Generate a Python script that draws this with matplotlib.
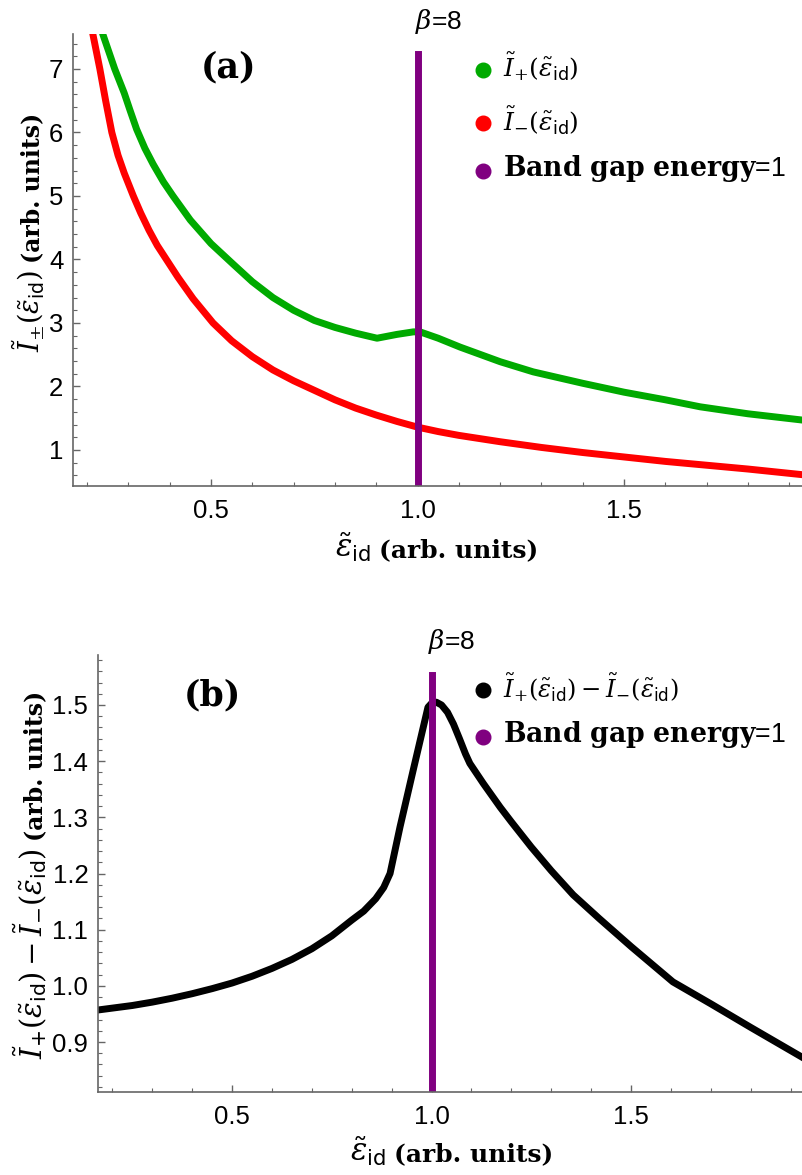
import numpy as np
import matplotlib
matplotlib.use("Agg")
import matplotlib.pyplot as plt
from matplotlib.lines import Line2D

plt.rcParams['font.family'] = ['Liberation Sans', 'DejaVu Sans']
plt.rcParams['mathtext.fontset'] = 'dejavuserif'

# panel (a): I+ (green) and I- (red) vs eps_id
x_plus = [0.225, 0.238, 0.267, 0.29, 0.304, 0.32, 0.34, 0.36, 0.385, 0.408, 0.45,
          0.5, 0.553, 0.6, 0.65, 0.7, 0.75, 0.8, 0.85, 0.902, 0.95, 0.99, 1.006,
          1.05, 1.103, 1.2, 1.28, 1.4, 1.5, 1.6, 1.684, 1.8, 1.933]
y_plus = [7.95, 7.55, 7.0, 6.62, 6.35, 6.05, 5.75, 5.5, 5.22, 5.0, 4.62,
          4.25, 3.93, 3.65, 3.40, 3.2, 3.04, 2.93, 2.84, 2.76, 2.82, 2.86, 2.86,
          2.76, 2.62, 2.39, 2.23, 2.05, 1.91, 1.79, 1.68, 1.57, 1.47]

x_minus = [0.205, 0.214, 0.231, 0.245, 0.26, 0.275, 0.29, 0.312, 0.33, 0.35, 0.37,
           0.393, 0.42, 0.457, 0.505, 0.55, 0.6, 0.65, 0.7, 0.75, 0.8, 0.85, 0.9,
           0.95, 1.0, 1.05, 1.1, 1.2, 1.3, 1.4, 1.5, 1.6, 1.7, 1.8, 1.933]
y_minus = [7.95, 7.55, 7.0, 6.5, 6.0, 5.64, 5.36, 5.0, 4.73, 4.46, 4.22,
           3.99, 3.72, 3.38, 3.0, 2.72, 2.47, 2.26, 2.09, 1.94, 1.79, 1.66, 1.55,
           1.45, 1.36, 1.29, 1.23, 1.13, 1.04, 0.96, 0.89, 0.82, 0.76, 0.70, 0.61]

# panel (b): I+ - I-
x_diff = [0.164, 0.25, 0.3, 0.35, 0.4, 0.45, 0.5, 0.55, 0.6, 0.65, 0.7, 0.75,
          0.8, 0.83, 0.86, 0.88, 0.896, 0.921, 0.954, 0.991, 1.0, 1.012, 1.025,
          1.04, 1.055, 1.07, 1.085, 1.096, 1.13, 1.172, 1.2, 1.25, 1.3, 1.355,
          1.42, 1.5, 1.605, 1.7, 1.8, 1.931]
y_diff = [0.957, 0.965, 0.971, 0.978, 0.986, 0.995, 1.005, 1.017, 1.031, 1.047,
          1.066, 1.089, 1.117, 1.133, 1.155, 1.175, 1.2, 1.283, 1.384, 1.496,
          1.503, 1.505, 1.5, 1.487, 1.466, 1.44, 1.413, 1.396, 1.36, 1.318, 1.292,
          1.247, 1.205, 1.162, 1.12, 1.07, 1.007, 0.968, 0.926, 0.872]

gap_x = 1.0
gap_top_a = 7.24
gap_top_b = 1.553
beta_label = r'$\beta$=8'

green = '#00aa00'
red = '#ff0000'
purple = '#800080'
axcol = '#666666'

eps = r'$\tilde{\varepsilon}_{\mathsf{id}}$'
lab_pm = r'$\tilde{I}_{\pm}(\tilde{\varepsilon}_{\mathsf{id}})$'
lab_plus = r'$\tilde{I}_{+}(\tilde{\varepsilon}_{\mathsf{id}})$'
lab_minus = r'$\tilde{I}_{-}(\tilde{\varepsilon}_{\mathsf{id}})$'
lab_diff = r'$\tilde{I}_{+}(\tilde{\varepsilon}_{\mathsf{id}})-\tilde{I}_{-}(\tilde{\varepsilon}_{\mathsf{id}})$'
lab_gap = r'$\mathbf{Band\ gap\ energy}$=1'
units = '(arb. units)'

W, H = 803, 1175
fig = plt.figure(figsize=(8.03, 11.75), dpi=100)
ax1 = fig.add_axes([73 / W, 1 - 486 / H, 730 / W, 452 / H])
ax2 = fig.add_axes([98 / W, 1 - 1092 / H, 705 / W, 437 / H])
rend = fig.canvas.get_renderer()


def fx(px):
    return px / W


def fy(py):
    return 1 - py / H


def style(ax):
    for s in ['top', 'right']:
        ax.spines[s].set_visible(False)
    for s in ['left', 'bottom']:
        ax.spines[s].set_color(axcol)
        ax.spines[s].set_linewidth(1.2)
    ax.tick_params(which='both', direction='in', color=axcol, labelsize=18.5,
                   labelcolor='black')
    ax.tick_params(which='major', length=5, width=1)
    ax.tick_params(which='minor', length=3, width=0.8)
    ax.set_xticks([0.5, 1.0, 1.5])
    ax.set_xticklabels(['0.5', '1.0', '1.5'])
    ax.xaxis.set_minor_locator(matplotlib.ticker.MultipleLocator(0.1))
    ax.tick_params(axis='x', pad=9)
    ax.tick_params(axis='y', pad=7)


def xlabel(x0, ybase):
    t = fig.text(fx(x0), fy(ybase), eps, fontsize=22, ha='left', va='baseline')
    e = t.get_window_extent(rend)
    fig.text((e.x1 + 8) / W, fy(ybase), units, fontsize=18, family='DejaVu Serif',
             weight='bold', ha='left', va='baseline')


def ylabel(math, xbase, y0, size):
    t = fig.text(fx(xbase), fy(y0), math, fontsize=size, rotation=90,
                 rotation_mode='anchor', ha='left', va='baseline')
    e = t.get_window_extent(rend)
    fig.text(fx(xbase), (e.y1 + 7) / H, units, fontsize=17, family='DejaVu Serif',
             weight='bold', rotation=90, rotation_mode='anchor',
             ha='left', va='baseline')


def legend(entries, xdot, xtext, ydots, ybases):
    for (c, lab, size), yd, yb in zip(entries, ydots, ybases):
        fig.add_artist(Line2D([fx(xdot)], [fy(yd)], ls='', marker='o', ms=10.5,
                              color=c, transform=fig.transFigure))
        fig.text(fx(xtext), fy(yb), lab, fontsize=size, ha='left', va='baseline')


# ---- (a)
style(ax1)
ax1.plot(x_plus, y_plus, color=green, lw=5, solid_joinstyle='round')
ax1.plot(x_minus, y_minus, color=red, lw=5, solid_joinstyle='round')
ax1.plot([gap_x, gap_x], [0.3, gap_top_a], color=purple, lw=5)
ax1.set_xlim(0.166, 1.933)
ax1.set_ylim(0.433, 7.55)
ax1.set_yticks([1, 2, 3, 4, 5, 6, 7])
ax1.yaxis.set_minor_locator(matplotlib.ticker.MultipleLocator(0.2))
xlabel(335, 557)
ylabel(lab_pm, 39, 352, 19.5)
fig.text(fx(229), fy(67), '(a)', fontsize=25, family='DejaVu Serif', weight='bold',
         ha='center', va='center')
fig.text(fx(438), fy(21), beta_label, fontsize=19, ha='center', va='center')
legend([(green, lab_plus, 18), (red, lab_minus, 18), (purple, lab_gap, 19.3)],
       483, 503, [70, 123, 171], [77, 131, 176])

# ---- (b)
style(ax2)
ax2.plot(x_diff, y_diff, color='black', lw=5, solid_joinstyle='round')
ax2.plot([gap_x, gap_x], [0.7, gap_top_b], color=purple, lw=5)
ax2.set_xlim(0.164, 1.931)
ax2.set_ylim(0.811, 1.589)
ax2.set_yticks([0.9, 1.0, 1.1, 1.2, 1.3, 1.4, 1.5])
ax2.set_yticklabels(['0.9', '1.0', '1.1', '1.2', '1.3', '1.4', '1.5'])
ax2.yaxis.set_minor_locator(matplotlib.ticker.MultipleLocator(0.02))
xlabel(350, 1161)
ylabel(lab_diff, 42, 1059, 21)
fig.text(fx(212), fy(695), '(b)', fontsize=25, family='DejaVu Serif', weight='bold',
         ha='center', va='center')
fig.text(fx(451), fy(642), beta_label, fontsize=19, ha='center', va='center')
legend([('black', lab_diff, 17.5), (purple, lab_gap, 19.3)],
       483, 503, [690, 737], [697, 742])

fig.savefig('out.png', dpi=100)
